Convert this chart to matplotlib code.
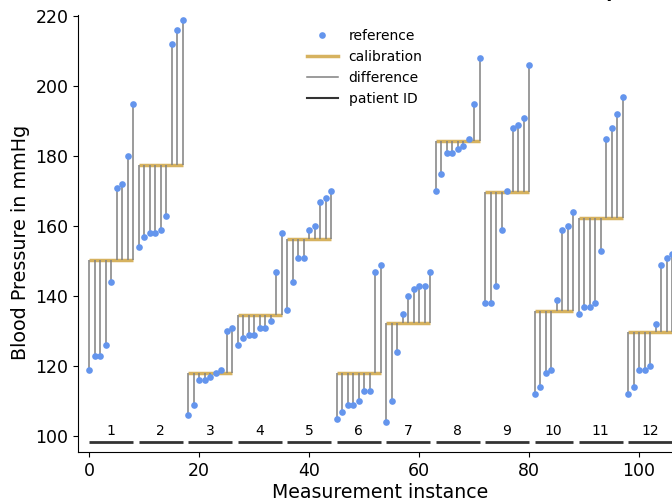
import matplotlib
matplotlib.use('Agg')
import matplotlib.pyplot as plt
from matplotlib.lines import Line2D
import numpy as np

# reference readings per patient (mmHg), in measurement order
patient_ids = [1, 2, 3, 4, 5, 6, 7, 8, 9, 10, 11, 12]
reference = [
    [119, 123, 123, 126, 144, 171, 172, 180, 195],
    [154, 157, 158, 158, 159, 163, 212, 216, 219],
    [106, 109, 116, 116, 117, 118, 119, 130, 131],
    [126, 128, 129, 129, 131, 131, 133, 147, 158],
    [136, 144, 151, 151, 159, 160, 167, 168, 170],
    [105, 107, 109, 109, 110, 113, 113, 147, 149],
    [104, 110, 124, 135, 140, 142, 143, 143, 147],
    [170, 175, 181, 181, 182, 183, 185, 195, 208],
    [138, 138, 143, 159, 170, 188, 189, 191, 206],
    [112, 114, 118, 119, 139, 159, 160, 164],
    [135, 137, 137, 138, 153, 185, 188, 192, 197],
    [112, 114, 119, 119, 120, 132, 149, 151, 152],
]
calibration = [150.3, 177.3, 118.0, 134.7, 156.2, 117.9, 132.4, 184.4, 169.6, 135.6, 162.4, 129.8]

dot_color = '#6495ed'
calib_color = '#d6b25f'
id_y = 98.3

fig = plt.figure(figsize=(6.72, 5.03), dpi=100)
ax = fig.add_axes([78 / 672, 1 - 452 / 503, 605 / 672, 437 / 503])

start = 0
for pid, ref, cal in zip(patient_ids, reference, calibration):
    x = np.arange(start, start + len(ref))
    ax.plot([x[0], x[-1]], [cal, cal], color=calib_color, lw=2.5, zorder=2, solid_capstyle='butt')
    ax.vlines(x, cal, ref, color='gray', lw=1.1, zorder=3)
    ax.plot(x, ref, 'o', color=dot_color, ms=4.8, zorder=4, markeredgewidth=0)
    ax.plot([x[0], x[-1]], [id_y, id_y], color='#333333', lw=2, solid_capstyle='butt')
    ax.text((x[0] + x[-1]) / 2, id_y + 1.1, str(pid), ha='center', va='bottom', fontsize=10)
    start += len(ref)

ax.set_xlim(-2, 108)
ax.set_ylim(95.43, 220.29)
ax.set_xticks([0, 20, 40, 60, 80, 100])
ax.set_yticks([100, 120, 140, 160, 180, 200, 220])
ax.tick_params(labelsize=12.5)
ax.spines['top'].set_visible(False)
ax.spines['right'].set_visible(False)
ax.set_xlabel('Measurement instance', fontsize=13.6, labelpad=2)
ax.set_ylabel('Blood Pressure in mmHg', fontsize=13.8)
ax.yaxis.label.set_y(0.48)

handles = [
    Line2D([], [], marker='o', ls='none', color=dot_color, ms=4.8, markeredgewidth=0),
    Line2D([], [], color=calib_color, lw=2.5),
    Line2D([], [], color='gray', lw=1.1),
    Line2D([], [], color='#333333', lw=1.5),
]
fig.legend(handles, ['reference', 'calibration', 'difference', 'patient ID'],
           loc='upper left', bbox_to_anchor=(300 / 672, 1 - 22 / 503), frameon=False,
           fontsize=10, borderpad=0, handlelength=2.2, handletextpad=0.8, labelspacing=0.5)

fig.text(316 / 672, 1 + 3 / 503, '(b) Calibration error for each patient', fontsize=12.5,
         weight='bold', ha='left', va='baseline')

fig.savefig('out.png', dpi=100)
